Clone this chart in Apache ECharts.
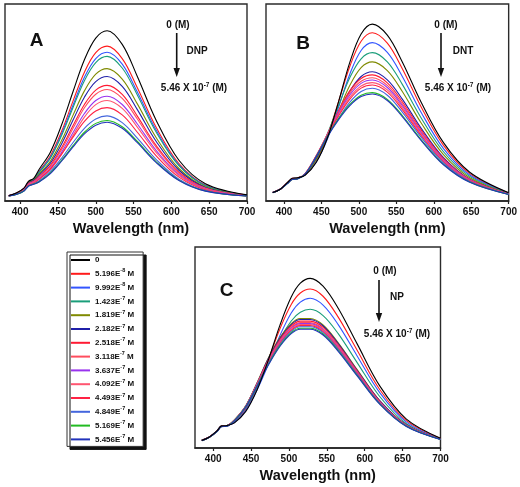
<!DOCTYPE html>
<html><head><meta charset="utf-8">
<script src="https://cdn.jsdelivr.net/npm/echarts@6/dist/echarts.min.js"></script>
<style>html,body{margin:0;padding:0;background:#fff}#c{width:520px;height:487px}</style>
</head><body><div id="c"></div>
<script>
// ---- data ----
const concNames = ['0','5.196E-8 M','9.992E-8 M','1.423E-7 M','1.819E-7 M','2.182E-7 M','2.518E-7 M','3.118E-7 M','3.637E-7 M','4.092E-7 M','4.493E-7 M','4.849E-7 M','5.169E-7 M','5.456E-7 M'];
const xTicks = [400, 450, 500, 550, 600, 650, 700];

// Panel A (DNP) – intensity as % of plot height
const wlA = [385, 395, 405, 411, 418, 425, 440, 455, 470, 485, 500, 515, 535, 555, 580, 610, 645, 700];
const dnp = [
  [2.8, 4.0, 6.5, 10.0, 11.5, 16.0, 24.8, 38.8, 55.6, 71.7, 82.7, 86.4, 79.5, 63.2, 40.9, 20.7, 8.8, 3.1],
  [2.8, 4.0, 6.4, 9.8, 11.3, 15.1, 23.0, 35.5, 50.8, 65.4, 75.3, 78.6, 72.3, 57.5, 37.3, 19.0, 8.1, 3.0],
  [2.8, 3.9, 6.3, 9.6, 11.1, 14.7, 22.2, 34.3, 48.7, 62.8, 72.3, 75.5, 69.5, 55.3, 35.9, 18.3, 7.9, 3.0],
  [2.7, 3.9, 6.2, 9.5, 11.0, 14.4, 21.7, 33.4, 47.5, 61.1, 70.3, 73.4, 67.5, 53.8, 34.9, 17.9, 7.7, 2.9],
  [2.7, 3.8, 6.0, 9.2, 10.6, 13.6, 20.2, 30.8, 43.6, 55.9, 64.4, 67.2, 61.9, 49.3, 32.1, 16.5, 7.2, 2.8],
  [2.7, 3.8, 5.9, 9.0, 10.4, 13.0, 19.2, 29.1, 41.1, 52.7, 60.6, 63.2, 58.2, 46.4, 30.2, 15.6, 6.9, 2.8],
  [2.7, 3.7, 5.8, 8.8, 10.1, 12.4, 18.1, 27.2, 38.3, 49.0, 56.3, 58.7, 54.1, 43.1, 28.1, 14.6, 6.5, 2.7],
  [2.6, 3.7, 5.7, 8.6, 9.9, 12.0, 17.4, 26.2, 36.9, 47.3, 54.2, 56.6, 52.1, 41.6, 27.2, 14.1, 6.4, 2.7],
  [2.6, 3.6, 5.6, 8.4, 9.7, 11.5, 16.6, 24.8, 34.8, 44.4, 51.0, 53.2, 49.0, 39.1, 25.6, 13.4, 6.1, 2.7],
  [2.6, 3.6, 5.5, 8.2, 9.5, 11.1, 15.9, 23.8, 33.3, 42.6, 48.9, 51.0, 47.0, 37.5, 24.6, 12.9, 5.9, 2.6],
  [2.6, 3.5, 5.3, 7.9, 9.0, 11.0, 16.3, 23.9, 32.4, 40.4, 45.7, 47.4, 43.7, 34.9, 22.9, 12.1, 5.6, 2.6],
  [2.5, 3.4, 5.2, 7.7, 8.8, 10.2, 15.0, 21.8, 29.7, 36.9, 41.6, 43.2, 39.8, 31.9, 21.0, 11.1, 5.3, 2.5],
  [2.5, 3.3, 5.1, 7.6, 8.6, 9.8, 14.3, 20.7, 28.1, 34.9, 39.4, 40.9, 37.7, 30.2, 19.9, 10.6, 5.1, 2.5],
  [2.5, 3.3, 5.0, 7.5, 8.5, 9.6, 13.9, 20.3, 27.5, 34.1, 38.5, 40.0, 36.9, 29.6, 19.5, 10.4, 5.0, 2.5]
];

// Panel B (DNT)
const wlB = [385, 395, 405, 411, 418, 428, 443, 458, 473, 488, 503, 518, 538, 558, 583, 613, 648, 700];
const dnt = [
  [4.3, 6.0, 9.5, 11.5, 11.8, 13.0, 19.5, 32.0, 50.6, 70.5, 84.8, 89.8, 84.2, 70.6, 50.3, 29.6, 14.6, 4.2],
  [4.3, 6.0, 9.5, 11.5, 11.8, 13.1, 20.1, 33.1, 50.6, 68.4, 81.1, 85.4, 80.1, 67.1, 47.9, 28.2, 13.9, 4.1],
  [4.3, 6.0, 9.4, 11.4, 11.7, 13.1, 19.8, 31.4, 47.7, 64.5, 76.4, 80.4, 75.4, 63.2, 45.1, 26.6, 13.2, 4.0],
  [4.3, 6.0, 9.4, 11.4, 11.7, 13.3, 21.3, 34.1, 48.6, 62.7, 72.2, 75.3, 70.6, 59.2, 42.3, 25.0, 12.5, 3.8],
  [4.3, 6.0, 9.4, 11.3, 11.6, 13.4, 21.0, 32.2, 45.7, 58.7, 67.7, 70.6, 66.2, 55.6, 39.7, 23.5, 11.8, 3.7],
  [4.3, 6.0, 9.3, 11.3, 11.6, 13.5, 21.8, 33.0, 44.9, 55.8, 63.2, 65.6, 61.5, 51.7, 37.0, 22.0, 11.1, 3.6],
  [4.3, 6.0, 9.3, 11.2, 11.5, 13.8, 23.0, 34.0, 46.0, 56.0, 62.2, 64.0, 60.0, 50.4, 36.1, 21.5, 10.9, 3.6],
  [4.3, 6.0, 9.3, 11.2, 11.5, 13.8, 22.9, 33.8, 45.3, 54.9, 60.8, 62.6, 58.7, 49.3, 35.3, 21.0, 10.7, 3.5],
  [4.3, 6.0, 9.2, 11.1, 11.4, 13.7, 22.8, 33.6, 44.8, 53.9, 59.7, 61.4, 57.6, 48.4, 34.7, 20.7, 10.5, 3.5],
  [4.3, 6.0, 9.2, 11.1, 11.4, 13.7, 22.7, 33.4, 44.0, 52.7, 58.4, 60.1, 56.4, 47.4, 34.0, 20.2, 10.3, 3.5],
  [4.3, 6.0, 9.2, 11.0, 11.3, 13.6, 22.6, 33.2, 43.2, 51.7, 57.3, 58.9, 55.3, 46.4, 33.3, 19.9, 10.1, 3.4],
  [4.3, 6.0, 9.1, 11.0, 11.3, 13.6, 22.5, 32.9, 42.0, 50.2, 55.6, 57.2, 53.7, 45.1, 32.4, 19.3, 9.9, 3.4],
  [4.2, 5.9, 9.0, 10.9, 11.2, 13.5, 22.5, 32.8, 41.8, 49.0, 53.7, 55.0, 51.6, 43.4, 31.2, 18.6, 9.6, 3.3],
  [4.2, 5.9, 9.0, 10.9, 11.2, 13.5, 22.4, 32.6, 41.3, 48.4, 53.0, 54.3, 51.0, 42.8, 30.8, 18.4, 9.5, 3.3]
];

// Panel C (NP)
const wlC = [385, 395, 405, 411, 418, 428, 443, 458, 473, 488, 503, 515, 528, 545, 565, 590, 620, 655, 700];
const np = [
  [3.8, 5.5, 8.5, 11.0, 11.2, 12.5, 18.2, 29.0, 44.0, 61.0, 75.1, 82.0, 84.4, 80.5, 69.5, 51.8, 30.8, 14.4, 4.9],
  [3.8, 5.5, 8.5, 11.0, 11.2, 12.8, 19.2, 30.2, 44.2, 59.2, 71.4, 77.1, 79.1, 75.5, 65.1, 48.6, 29.0, 13.6, 4.7],
  [3.8, 5.5, 8.5, 11.0, 11.2, 12.7, 18.8, 29.0, 41.8, 55.9, 67.2, 72.6, 74.5, 71.1, 61.4, 45.8, 27.4, 12.9, 4.5],
  [3.8, 5.5, 8.5, 11.0, 11.2, 13.3, 20.0, 30.5, 42.3, 54.1, 63.2, 67.5, 69.0, 65.9, 56.9, 42.5, 25.5, 12.1, 4.3],
  [3.8, 5.5, 8.4, 10.9, 11.1, 14.0, 21.0, 32.5, 44.9, 54.9, 61.9, 64.4, 64.4, 61.2, 52.3, 39.0, 23.5, 11.5, 4.5],
  [3.8, 5.5, 8.4, 10.9, 11.1, 13.9, 20.9, 32.3, 44.6, 54.4, 61.4, 63.9, 63.9, 60.7, 51.9, 38.7, 23.4, 11.4, 4.5],
  [3.8, 5.5, 8.4, 10.9, 11.1, 13.9, 20.8, 32.1, 44.0, 53.8, 60.7, 63.1, 63.1, 60.0, 51.3, 38.3, 23.1, 11.3, 4.5],
  [3.7, 5.4, 8.4, 10.8, 11.0, 13.8, 20.7, 31.9, 43.6, 53.2, 60.0, 62.4, 62.4, 59.3, 50.7, 37.9, 22.8, 11.2, 4.5],
  [3.7, 5.4, 8.3, 10.8, 11.0, 13.8, 20.7, 31.7, 43.2, 52.8, 59.6, 61.9, 61.9, 58.8, 50.3, 37.6, 22.7, 11.1, 4.4],
  [3.7, 5.4, 8.3, 10.8, 11.0, 13.7, 20.6, 31.5, 42.9, 52.4, 59.1, 61.4, 61.4, 58.4, 49.9, 37.3, 22.5, 11.0, 4.4],
  [3.7, 5.4, 8.3, 10.7, 10.9, 13.7, 20.6, 31.4, 42.6, 52.0, 58.6, 60.9, 60.9, 57.9, 49.5, 37.0, 22.3, 11.0, 4.4],
  [3.7, 5.4, 8.3, 10.7, 10.9, 13.6, 20.5, 31.2, 42.2, 51.5, 58.0, 60.3, 60.3, 57.4, 49.1, 36.6, 22.1, 10.9, 4.4],
  [3.6, 5.3, 8.2, 10.7, 10.9, 13.6, 20.5, 31.0, 41.7, 50.9, 57.4, 59.6, 59.6, 56.7, 48.5, 36.2, 21.9, 10.8, 4.3],
  [3.6, 5.3, 8.2, 10.6, 10.8, 13.5, 20.4, 30.8, 41.4, 50.5, 56.9, 59.1, 59.1, 56.2, 48.1, 35.9, 21.7, 10.7, 4.3]
];

// ---- styling ----
const lineColors = ['#000000','#ff1a1a','#3355ff','#1a9e7a','#7f8a00','#1f1fa8','#ff1a33','#ff4d5e','#9933ee','#ff5570','#ff2244','#4466dd','#22bb22','#2233bb'];
const FONT = '"Liberation Sans", Arial, sans-serif';

const panels = [
  {wl: wlA, rows: dnp, min: 380, grid: {left: 5, top: 4, width: 242, height: 197}, pad: [0, 0, 0, 10]},
  {wl: wlB, rows: dnt, min: 376, grid: {left: 266, top: 4, width: 245, height: 197}, pad: [0, 0, 0, 0]},
  {wl: wlC, rows: np, min: 376, grid: {left: 195, top: 247, width: 245.5, height: 201}, pad: [0, 0, 0, 0]}
];

const grids = [], xAxes = [], yAxes = [], series = [];
panels.forEach((p, gi) => {
  grids.push(Object.assign({show: true, borderColor: '#2b2b2b', borderWidth: 1.4, backgroundColor: 'transparent'}, p.grid));
  xAxes.push({
    type: 'value', gridIndex: gi, min: p.min, max: 700,
    axisLine: {show: true, onZero: false, lineStyle: {color: '#222', width: 1.5}},
    axisTick: {show: true, customValues: xTicks, length: 3, lineStyle: {color: '#222', width: 1.2}},
    axisLabel: {customValues: xTicks, margin: 6, fontSize: 10, fontWeight: 'bold', color: '#111', fontFamily: FONT},
    splitLine: {show: false},
    name: 'Wavelength (nm)', nameLocation: 'middle', nameGap: 20,
    nameTextStyle: {fontSize: 14.5, fontWeight: 'bold', color: '#111', fontFamily: FONT, padding: p.pad}
  });
  yAxes.push({type: 'value', gridIndex: gi, min: 0, max: 100, show: false});
  p.rows.forEach((vals, i) => {
    series.push({
      type: 'line', name: concNames[i], xAxisIndex: gi, yAxisIndex: gi,
      data: p.wl.map((w, j) => [w, vals[j]]),
      smooth: 0.35, symbol: 'none', showSymbol: false,
      lineStyle: {width: 1.1, color: lineColors[i]},
      itemStyle: {color: lineColors[i]},
      z: 2 + (i === 0 ? 20 : 0)
    });
  });
});

function legendFmt(name) {
  const m = name.match(/^([\d.]+E)(-\d+)( M)$/);
  if (!m) return '{t|' + name + '}';
  return '{t|' + m[1] + '}{s|' + m[2] + '}{t|' + m[3] + '}';
}

function annText(x, y, text, size) {
  return {type: 'text', z: 100, style: {text: text, x: x, y: y, align: 'center', verticalAlign: 'middle',
    textAlign: 'center', textVerticalAlign: 'middle', font: 'bold ' + size + 'px ' + FONT, fill: '#111'}};
}
function annRich(x, y) {
  return {type: 'text', z: 100, style: {text: '{a|5.46 X 10}{s|-7}{a| (M)}', x: x, y: y,
    align: 'center', verticalAlign: 'middle', textAlign: 'center', textVerticalAlign: 'middle',
    font: 'bold 10px ' + FONT, fill: '#111',
    rich: {a: {fontSize: 10, fontWeight: 'bold', fontFamily: FONT, lineHeight: 13, fill: '#111'},
           s: {fontSize: 6.5, fontWeight: 'bold', fontFamily: FONT, lineHeight: 8, verticalAlign: 'top', fill: '#111'}}}};
}
function arrow(x, y1, y2) {
  return [
    {type: 'line', z: 100, shape: {x1: x, y1: y1, x2: x, y2: y2 - 7}, style: {stroke: '#111', lineWidth: 1.6}},
    {type: 'polygon', z: 100, shape: {points: [[x - 3.2, y2 - 9], [x + 3.2, y2 - 9], [x, y2]]}, style: {fill: '#111'}}
  ];
}

const graphics = [
  annText(36.5, 40.5, 'A', 19), annText(303, 44, 'B', 19), annText(226.5, 291, 'C', 19),
  annText(178, 25, '0 (M)', 10), annText(197, 51, 'DNP', 10), annRich(194, 88),
  annText(446, 25, '0 (M)', 10), annText(463, 51, 'DNT', 10), annRich(458, 88),
  annText(385, 271, '0 (M)', 10), annText(397, 297, 'NP', 10), annRich(397, 334)
].concat(arrow(176.7, 33, 77), arrow(441, 33, 77), arrow(379, 280, 322));

const chart = echarts.init(document.getElementById('c'), null, {renderer: 'canvas'});
chart.setOption({
  animation: false,
  backgroundColor: '#fff',
  grid: grids, xAxis: xAxes, yAxis: yAxes, series: series,
  graphic: graphics,
  legend: {
    orient: 'vertical', left: 67, top: 252,
    icon: 'rect', itemWidth: 19, itemHeight: 2, itemGap: 3.8, padding: [4, 9, 3, 4],
    backgroundColor: '#fff', borderColor: '#333', borderWidth: 1,
    shadowColor: '#111', shadowOffsetX: 3, shadowOffsetY: 3, shadowBlur: 0.01,
    selectedMode: false,
    data: concNames,
    formatter: legendFmt,
    textStyle: {color: '#111', rich: {
      t: {fontSize: 8, fontWeight: 'bold', fontFamily: FONT, lineHeight: 12, color: '#111'},
      s: {fontSize: 5.5, fontWeight: 'bold', fontFamily: FONT, lineHeight: 7, verticalAlign: 'top', color: '#111'}
    }}
  }
});
</script>
</body></html>
